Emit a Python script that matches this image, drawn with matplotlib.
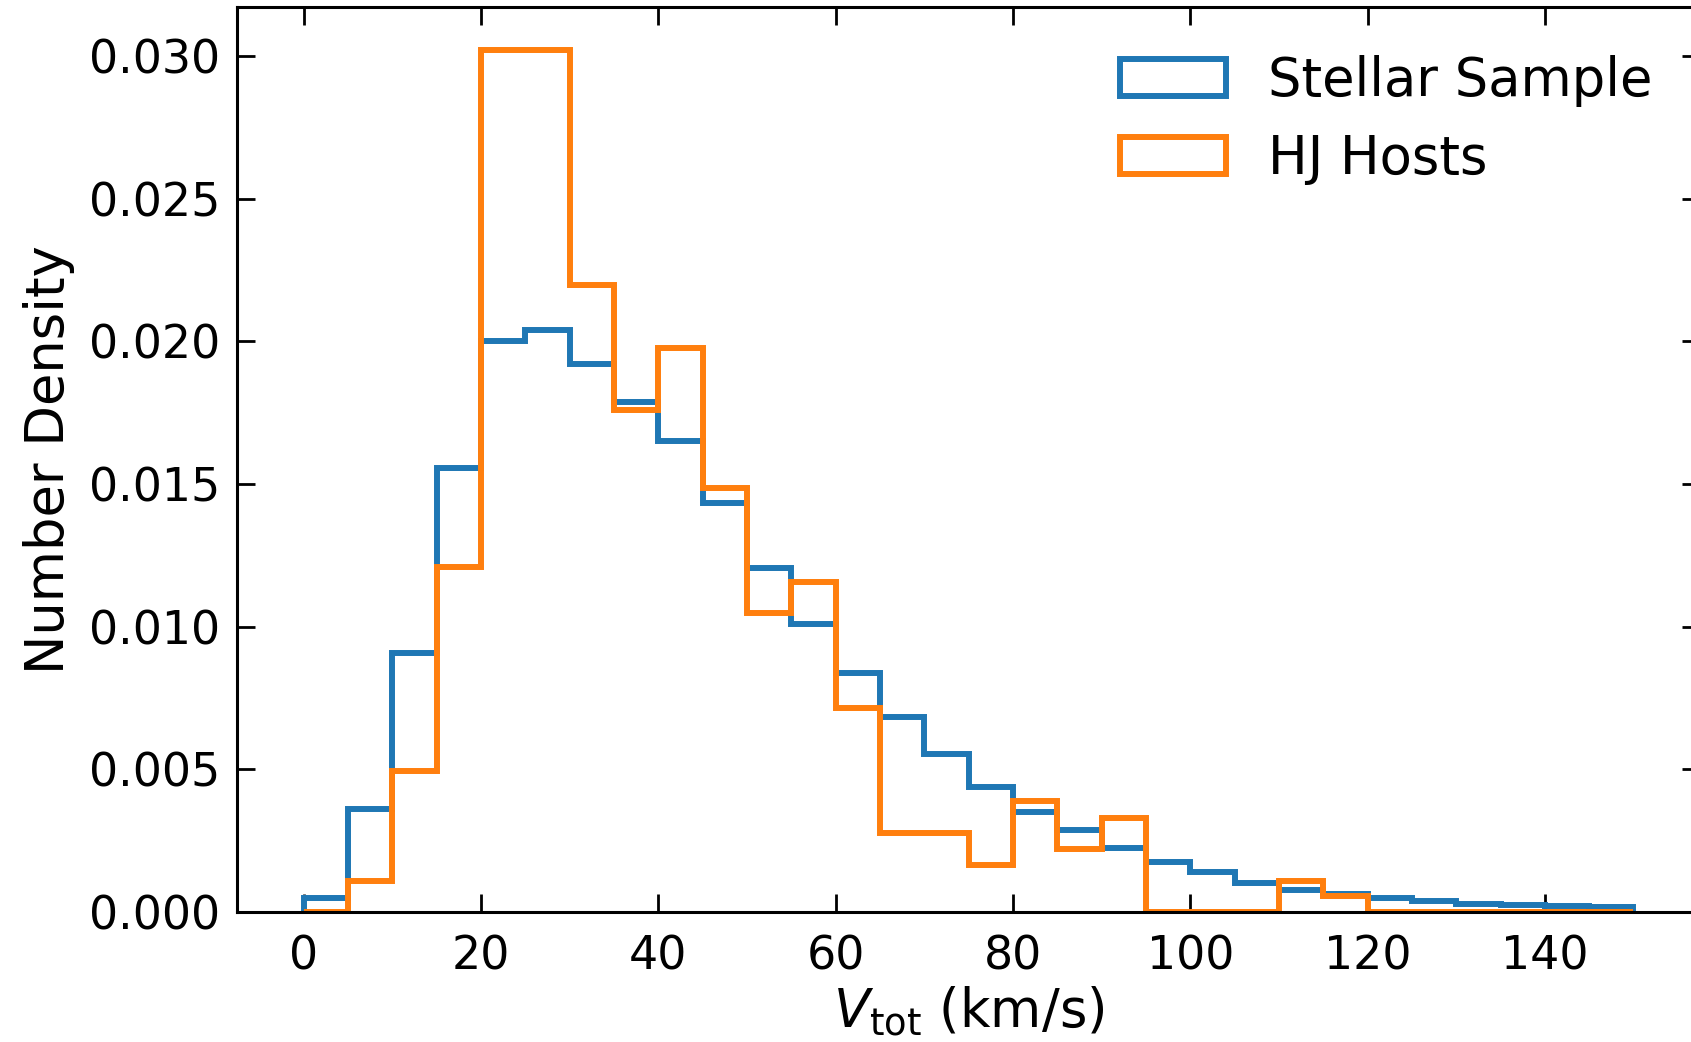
import numpy as np
import matplotlib
matplotlib.use('Agg')
import matplotlib.pyplot as plt

# bin edges (km/s) and densities
bin_edges = np.arange(0, 155, 5)

stellar = [0.00050, 0.00362, 0.00909, 0.01556, 0.02002, 0.02039, 0.01920, 0.01786,
           0.01651, 0.01433, 0.01205, 0.01009, 0.00837, 0.00685, 0.00555, 0.00439,
           0.00350, 0.00287, 0.00223, 0.00175, 0.00139, 0.00102, 0.00076, 0.00064,
           0.00049, 0.00037, 0.00029, 0.00025, 0.00020, 0.00016]

hj_hosts = [0.0, 0.00109, 0.00493, 0.01209, 0.03020, 0.03020, 0.02199, 0.01760,
            0.01977, 0.01487, 0.01047, 0.01158, 0.00716, 0.00276, 0.00276, 0.00163,
            0.00388, 0.00222, 0.00330, 0.0, 0.0, 0.0, 0.00110, 0.00055,
            0.0, 0.0, 0.0, 0.0, 0.0, 0.0]

labels = ['Stellar Sample', 'HJ Hosts']
colors = ['#1f77b4', '#ff7f0e']

fig = plt.figure(figsize=(16.91, 10.42), dpi=100)
ax = fig.add_axes([0.1403, 0.1248, 0.8650, 0.8682])

for vals, lab, col in zip([stellar, hj_hosts], labels, colors):
    ax.hist(bin_edges[:-1], bins=bin_edges, weights=vals, histtype='step',
            color=col, lw=4.3, label=lab)

ax.set_xlim(-7.5, 157.5)
ax.set_ylim(0, 0.0302 * 1.05)
ax.set_yticks([0, 0.005, 0.01, 0.015, 0.02, 0.025, 0.03])
ax.set_yticklabels(['0.000', '0.005', '0.010', '0.015', '0.020', '0.025', '0.030'])
ax.set_xticks(range(0, 141, 20))

ax.tick_params(direction='in', top=True, right=True, length=13, width=2,
               labelsize=33)
ax.tick_params(axis='x', pad=16)
ax.tick_params(axis='y', pad=12)
for s in ax.spines.values():
    s.set_linewidth(2.2)

ax.set_xlabel(r'$V_{\rm tot}$ (km/s)', fontsize=38, labelpad=4)
ax.set_ylabel('Number Density', fontsize=38, labelpad=10)
ax.legend(loc='upper right', frameon=False, fontsize=38)

fig.savefig('out.png', dpi=100)
